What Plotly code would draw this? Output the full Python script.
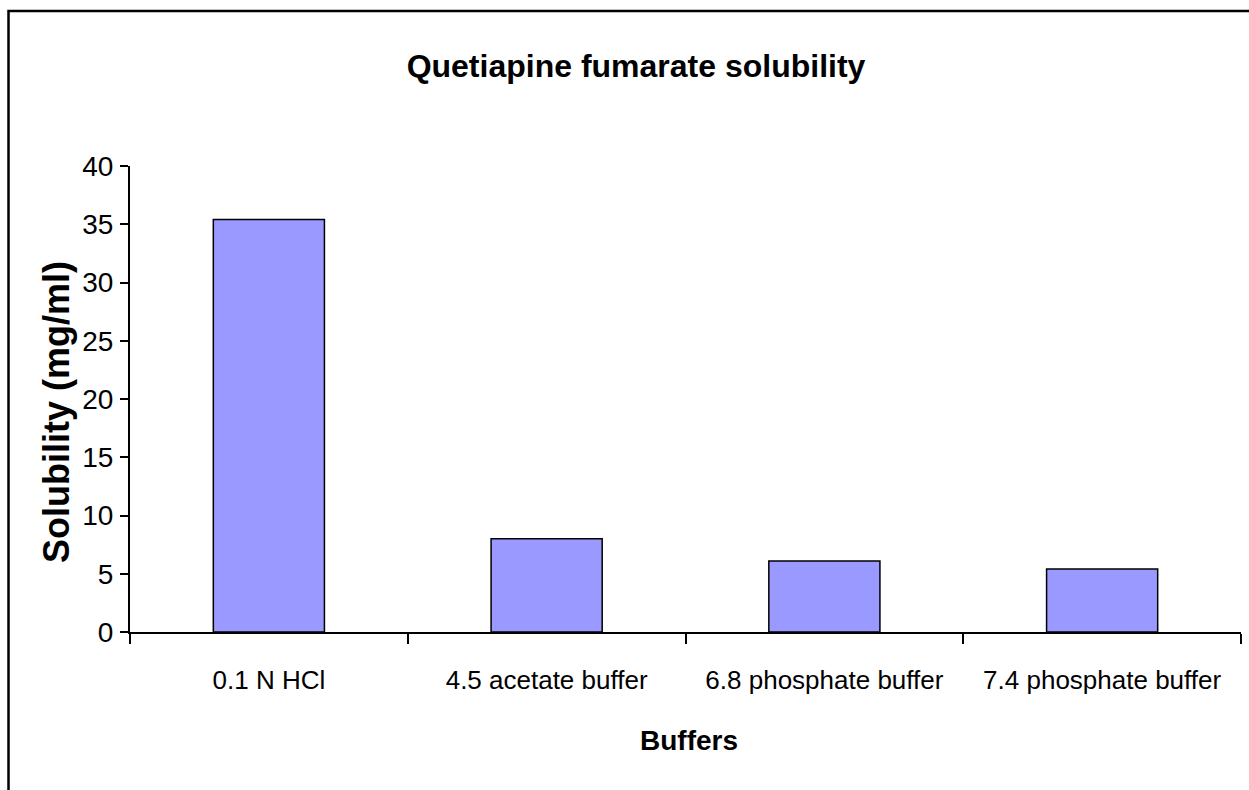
import plotly.graph_objects as go

# Solubility of quetiapine fumarate in each medium
buffers = ["0.1 N HCl", "4.5 acetate buffer", "6.8 phosphate buffer", "7.4 phosphate buffer"]
solubility = [35.4, 8.0, 6.1, 5.4]
y_ticks = [0, 5, 10, 15, 20, 25, 30, 35, 40]

W, H = 1249, 790
L, R, T, B = 130, 8, 166, 158
pw, ph = W - L - R, H - T - B

def px_to_paper_x(px):
    return (px - L) / pw

def px_to_paper_y(py):
    return (H - B - py) / ph

FONT = "Liberation Sans, Arial, sans-serif"

fig = go.Figure(
    go.Bar(
        x=buffers,
        y=solubility,
        marker=dict(color="#9999FF", line=dict(color="black", width=1.5)),
        width=0.4,
    )
)

fig.update_layout(
    width=W,
    height=H,
    margin=dict(l=L, r=R, t=T, b=B),
    paper_bgcolor="white",
    plot_bgcolor="white",
    showlegend=False,
    font=dict(family=FONT, color="black"),
    title=dict(
        text="<b>Quetiapine fumarate solubility</b>",
        font=dict(family=FONT, size=32, color="black"),
        xref="container",
        x=636 / W,
        xanchor="center",
        yref="container",
        y=1 - 66 / H,
        yanchor="middle",
    ),
)

fig.update_xaxes(
    type="category",
    showline=True,
    linecolor="black",
    linewidth=2,
    ticks="outside",
    tickson="boundaries",
    ticklen=10,
    tickwidth=2,
    tickcolor="black",
    tickfont=dict(family=FONT, size=26, color="black"),
    ticklabelstandoff=24,
    showgrid=False,
    zeroline=False,
)

fig.update_yaxes(
    range=[0, 40],
    tickvals=y_ticks,
    showline=True,
    linecolor="black",
    linewidth=2,
    ticks="outside",
    ticklen=8,
    tickwidth=2,
    tickcolor="black",
    tickfont=dict(family=FONT, size=28, color="black"),
    ticklabelstandoff=1,
    showgrid=False,
    zeroline=False,
)

# Axis titles
fig.add_annotation(
    text="<b>Solubility (mg/ml)</b>",
    xref="paper", yref="paper",
    x=px_to_paper_x(56), y=px_to_paper_y(412),
    xanchor="center", yanchor="middle",
    textangle=-90,
    showarrow=False,
    font=dict(family=FONT, size=36, color="black"),
)
fig.add_annotation(
    text="<b>Buffers</b>",
    xref="paper", yref="paper",
    x=px_to_paper_x(689), y=px_to_paper_y(740),
    xanchor="center", yanchor="middle",
    showarrow=False,
    font=dict(family=FONT, size=28, color="black"),
)

# Chart-area frame
fig.add_shape(
    type="rect",
    xref="paper", yref="paper",
    x0=px_to_paper_x(8.5), x1=px_to_paper_x(W + 20),
    y0=px_to_paper_y(H + 20), y1=px_to_paper_y(11),
    line=dict(color="black", width=2.5),
    fillcolor="rgba(0,0,0,0)",
    layer="below",
)

fig.write_html("out.html")
